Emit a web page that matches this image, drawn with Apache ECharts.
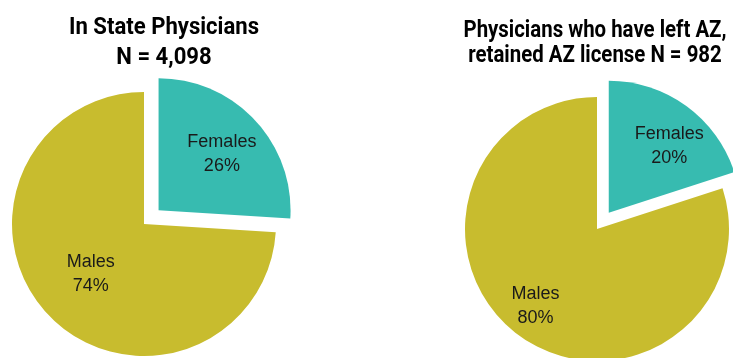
<!DOCTYPE html>
<html><head><meta charset="utf-8">
<script src="https://cdn.jsdelivr.net/npm/echarts@6/dist/echarts.min.js"></script>
<style>html,body{margin:0;padding:0;background:#fff}#c{width:733px;height:358px}</style>
</head><body><div id="c"></div>
<script>
const categories = ['Females', 'Males'];
const inStateValues = [26, 74];
const leftAZValues = [20, 80];
const titles = ['In State Physicians\nN = 4,098', 'Physicians who have left AZ,\nretained AZ license N = 982'];
const colors = ['#37BBB0', '#C8BC2E'];

const chart = echarts.init(document.getElementById('c'), null, {renderer: 'canvas'});
const labelOffsets = [[[13, -9], [-3, 3]], [[20, -11], [-21, 21]]];
function makeData(vals, pi) {
  return categories.map((c, i) => ({
    name: c, value: vals[i], selected: i === 0,
    itemStyle: {color: colors[i]},
    label: {offset: labelOffsets[pi][i]},
    select: {label: {offset: labelOffsets[pi][i]}}
  }));
}
const labelStyle = {
  show: true, position: 'inner',
  formatter: p => p.name + '\n' + p.value + '%',
  fontFamily: 'Liberation Sans', fontSize: 18, lineHeight: 24, color: '#1a1a1a'
};
const titleFont = 'bold 24px Roboto';
const ctx = document.createElement('canvas').getContext('2d');
ctx.font = titleFont;
function fitScale(line, w) { return w / ctx.measureText(line).width; }
const titleSpecs = [
  {x: 164, y: 13, lh: 30, w: 190},
  {x: 595, y: 18, lh: 25, w: 263}
];
const graphics = titles.map((t, i) => ({
  type: 'text', x: titleSpecs[i].x, y: titleSpecs[i].y,
  scaleX: fitScale(t.split('\n')[0], titleSpecs[i].w),
  silent: true,
  style: {text: t, font: titleFont, align: 'center', verticalAlign: 'top', lineHeight: titleSpecs[i].lh, fill: '#000'}
}));
chart.setOption({
  animation: false,
  graphic: graphics,
  series: [
    {type: 'pie', center: [144, 224], radius: 132, selectedMode: 'single', selectedOffset: 20,
     silent: true, label: labelStyle, labelLine: {show: false}, emphasis: {disabled: true},
     data: makeData(inStateValues, 0)},
    {type: 'pie', center: [597, 229], radius: 132, selectedMode: 'single', selectedOffset: 20,
     silent: true, label: labelStyle, labelLine: {show: false}, emphasis: {disabled: true},
     data: makeData(leftAZValues, 1)}
  ]
});
</script></body></html>
